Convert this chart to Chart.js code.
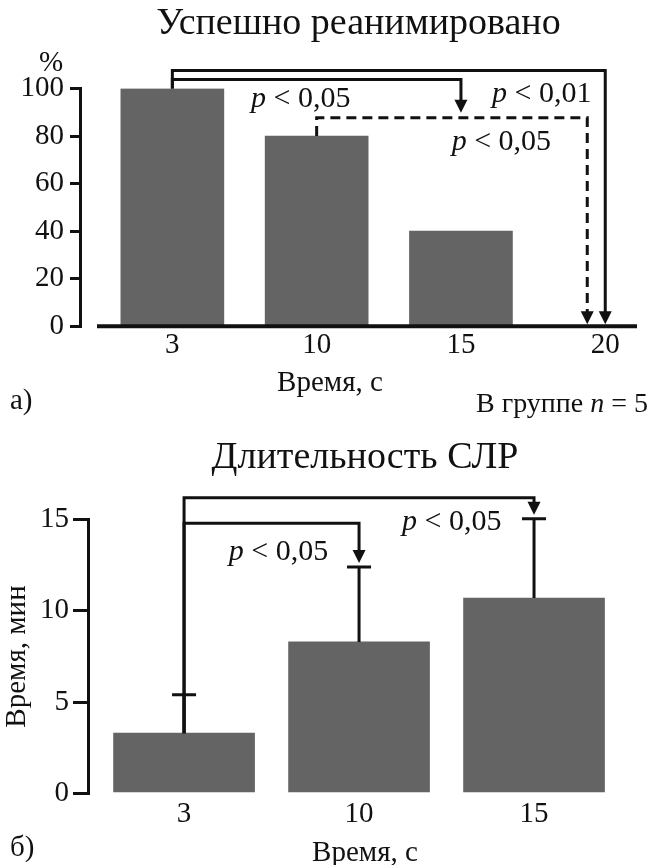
<!DOCTYPE html>
<html>
<head>
<meta charset="utf-8">
<script src="https://cdn.jsdelivr.net/npm/chart.js@4/dist/chart.umd.min.js"></script>
<style>
  html, body { margin: 0; padding: 0; background: #fff; overflow: hidden; }
  #wrap { position: relative; width: 661px; height: 865px; overflow: hidden; }
  .box { position: absolute; left: 0; width: 661px; }
</style>
</head>
<body>
<div id="wrap">
  <div class="box" style="top:0;height:430px"><canvas id="chartA"></canvas></div>
  <div class="box" style="top:430px;height:441px"><canvas id="chartB"></canvas></div>
</div>
<script>
// а) successfully revived, %
var groupsA = ['3', '10', '15', '20'];
var revivedPct = [100, 80, 40, 0];
var ticksA = [0, 20, 40, 60, 80, 100];

// б) CPR duration, min
var groupsB = ['3', '10', '15'];
var cprMin = [3.3, 8.3, 10.7];
var cprErrTop = [5.4, 12.4, 15.05];
var ticksB = [0, 5, 10, 15];

// significance brackets (group index from/to, bracket level in axis units, label position)
var compA = [
    { from: 0, to: 3, level: 107.6, end: 0, dashed: false, p: '< 0,01', at: [2.56, 94.5] },
    { from: 0, to: 2, level: 103.8, end: 89.8, dashed: false, p: '< 0,05', at: [0.89, 92.4] },
    { from: 1, to: 3, level: 87.7, end: 0, dashed: true, shift: -18, p: '< 0,05', at: [2.28, 74.2] }
];
var compB = [
    { from: 0, to: 2, level: 16.2, p: '< 0,05', at: [1.53, 14.45] },
    { from: 0, to: 1, level: 14.8, p: '< 0,05', at: [0.54, 12.8] }
];

var serif = '"Liberation Serif", "Times New Roman", serif';
var ink = '#111';
var barGrey = '#646464';

function pText(ctx, x, y, rest, size) {
    var it = 'italic ' + size + 'px ' + serif;
    var rm = size + 'px ' + serif;
    ctx.font = it;
    var w1 = ctx.measureText('p').width;
    ctx.font = rm;
    var w2 = ctx.measureText(' ' + rest).width;
    var x0 = x - (w1 + w2) / 2;
    ctx.textAlign = 'left';
    ctx.textBaseline = 'alphabetic';
    ctx.font = it;
    ctx.fillText('p', x0, y);
    ctx.font = rm;
    ctx.fillText(' ' + rest, x0 + w1, y);
}

function bracket(ctx, xs, ys, c, startVal, endVal, tipGap) {
    var x1 = xs.getPixelForValue(c.from);
    var x2 = xs.getPixelForValue(c.to) + (c.shift || 0);
    var yTop = ys.getPixelForValue(c.level);
    var yTip = ys.getPixelForValue(endVal) - tipGap;
    ctx.lineWidth = 3;
    ctx.setLineDash(c.dashed ? [10, 6] : []);
    ctx.beginPath();
    ctx.moveTo(x1, ys.getPixelForValue(startVal));
    ctx.lineTo(x1, yTop);
    ctx.lineTo(x2, yTop);
    ctx.lineTo(x2, yTip - 10);
    ctx.stroke();
    ctx.setLineDash([]);
    ctx.beginPath();
    ctx.moveTo(x2 - 6.5, yTip - 13);
    ctx.lineTo(x2 + 6.5, yTip - 13);
    ctx.lineTo(x2, yTip);
    ctx.closePath();
    ctx.fill();
}

var decorA = {
    id: 'decorA',
    afterDatasetsDraw: function (chart) {
        var ctx = chart.ctx, xs = chart.scales.x, ys = chart.scales.y, a = chart.chartArea;
        ctx.save();
        ctx.strokeStyle = ink;
        ctx.fillStyle = ink;
        ctx.lineJoin = 'miter';
        // x axis, detached from the y axis
        ctx.lineWidth = 4;
        ctx.beginPath();
        ctx.moveTo(a.left + 17, ys.getPixelForValue(0));
        ctx.lineTo(a.right, ys.getPixelForValue(0));
        ctx.stroke();

        compA.forEach(function (c) {
            bracket(ctx, xs, ys, c, revivedPct[c.from], c.end, c.end === 0 ? 2 : 0);
            pText(ctx, xs.getPixelForValue(c.at[0]), ys.getPixelForValue(c.at[1]), c.p, 30);
        });

        ctx.font = '29px ' + serif;
        ctx.textAlign = 'center';
        ctx.textBaseline = 'middle';
        ctx.fillText('%', 51, 63);
        ctx.fillText('Время, с', 330, 383);
        ctx.textAlign = 'left';
        ctx.fillText('а)', 10, 401);

        // "В группе n = 5"
        ctx.textBaseline = 'alphabetic';
        var s1 = 'В группе ', s2 = ' = 5';
        ctx.font = '28px ' + serif;
        var w1 = ctx.measureText(s1).width, w3 = ctx.measureText(s2).width;
        ctx.font = 'italic 28px ' + serif;
        var w2 = ctx.measureText('n').width;
        var x0 = 648 - (w1 + w2 + w3);
        ctx.font = '28px ' + serif;
        ctx.fillText(s1, x0, 412);
        ctx.font = 'italic 28px ' + serif;
        ctx.fillText('n', x0 + w1, 412);
        ctx.font = '28px ' + serif;
        ctx.fillText(s2, x0 + w1 + w2, 412);
        ctx.restore();
    }
};

var decorB = {
    id: 'decorB',
    afterDatasetsDraw: function (chart) {
        var ctx = chart.ctx, xs = chart.scales.x, ys = chart.scales.y;
        ctx.save();
        ctx.strokeStyle = ink;
        ctx.fillStyle = ink;
        ctx.lineWidth = 3;
        // error bars
        cprMin.forEach(function (v, i) {
            var x = xs.getPixelForValue(i);
            var yb = ys.getPixelForValue(v), yc = ys.getPixelForValue(cprErrTop[i]);
            ctx.beginPath();
            ctx.moveTo(x, yb);
            ctx.lineTo(x, yc);
            ctx.moveTo(x - 12, yc);
            ctx.lineTo(x + 12, yc);
            ctx.stroke();
        });
        compB.forEach(function (c) {
            bracket(ctx, xs, ys, c, cprMin[c.from], cprErrTop[c.to], 4);
            pText(ctx, xs.getPixelForValue(c.at[0]), ys.getPixelForValue(c.at[1]), c.p, 30);
        });
        ctx.font = '29px ' + serif;
        ctx.textAlign = 'left';
        ctx.textBaseline = 'middle';
        ctx.fillText('б)', 10, 418);
        ctx.restore();
    }
};

var tickFont = { family: serif, size: 29 };

new Chart(document.getElementById('chartA'), {
    type: 'bar',
    data: {
        datasets: [{
            data: revivedPct.map(function (v, i) { return { x: i, y: v }; }),
            backgroundColor: barGrey,
            barThickness: 103
        }]
    },
    options: {
        responsive: true,
        maintainAspectRatio: false,
        animation: false,
        layout: { padding: { top: 0, right: 24, bottom: 65, left: 0 } },
        plugins: {
            legend: { display: false },
            tooltip: { enabled: false },
            title: {
                display: true,
                fullSize: false,
                text: 'Успешно реанимировано',
                color: ink,
                font: { family: serif, size: 38, weight: 'normal' },
                padding: { top: 1, bottom: 42 }
            }
        },
        scales: {
            x: {
                type: 'linear',
                offset: false,
                min: -0.64,
                max: 3.22,
                grid: { display: false, drawTicks: false },
                border: { display: false },
                afterBuildTicks: function (s) { s.ticks = groupsA.map(function (g, i) { return { value: i }; }); },
                ticks: {
                    color: ink, font: tickFont, padding: 2, maxRotation: 0, autoSkip: false,
                    callback: function (v) { return groupsA[v]; }
                }
            },
            y: {
                min: 0,
                max: 100,
                afterBuildTicks: function (s) { s.ticks = ticksA.map(function (v) { return { value: v }; }); },
                afterFit: function (s) { s.width = 80; },
                grid: { drawOnChartArea: false, tickLength: 10, color: ink, lineWidth: 3 },
                border: { display: true, color: ink, width: 3 },
                ticks: { color: ink, font: tickFont, padding: 6 }
            }
        }
    },
    plugins: [decorA]
});

new Chart(document.getElementById('chartB'), {
    type: 'bar',
    data: {
        datasets: [{
            data: cprMin.map(function (v, i) { return { x: i, y: v }; }),
            backgroundColor: barGrey,
            barThickness: 141
        }]
    },
    options: {
        responsive: true,
        maintainAspectRatio: false,
        animation: false,
        layout: { padding: { top: 0, right: 19, bottom: 0, left: 0 } },
        plugins: {
            legend: { display: false },
            tooltip: { enabled: false },
            title: {
                display: true,
                fullSize: false,
                text: 'Длительность СЛР',
                color: ink,
                font: { family: serif, size: 38, weight: 'normal' },
                padding: { top: 5, bottom: 39 }
            }
        },
        scales: {
            x: {
                type: 'linear',
                offset: false,
                min: -0.549,
                max: 2.617,
                grid: { display: false, drawTicks: false },
                border: { display: false },
                afterBuildTicks: function (s) { s.ticks = groupsB.map(function (g, i) { return { value: i }; }); },
                ticks: {
                    color: ink, font: tickFont, padding: 4, maxRotation: 0, autoSkip: false,
                    callback: function (v) { return groupsB[v]; }
                },
                title: {
                    display: true, text: 'Время, с', color: ink,
                    font: { family: serif, size: 29 }, padding: { top: 0, bottom: 0 }
                }
            },
            y: {
                min: 0,
                max: 15,
                afterBuildTicks: function (s) { s.ticks = ticksB.map(function (v) { return { value: v }; }); },
                afterFit: function (s) { s.width = 88; },
                grid: { drawOnChartArea: false, tickLength: 15, color: ink, lineWidth: 3 },
                border: { display: true, color: ink, width: 3 },
                ticks: { color: ink, font: tickFont, padding: 4 },
                title: {
                    display: true, text: 'Время, мин', color: ink,
                    font: { family: serif, size: 29 }, padding: { top: 0, bottom: 0 }
                }
            }
        }
    },
    plugins: [decorB]
});
</script>
</body>
</html>
